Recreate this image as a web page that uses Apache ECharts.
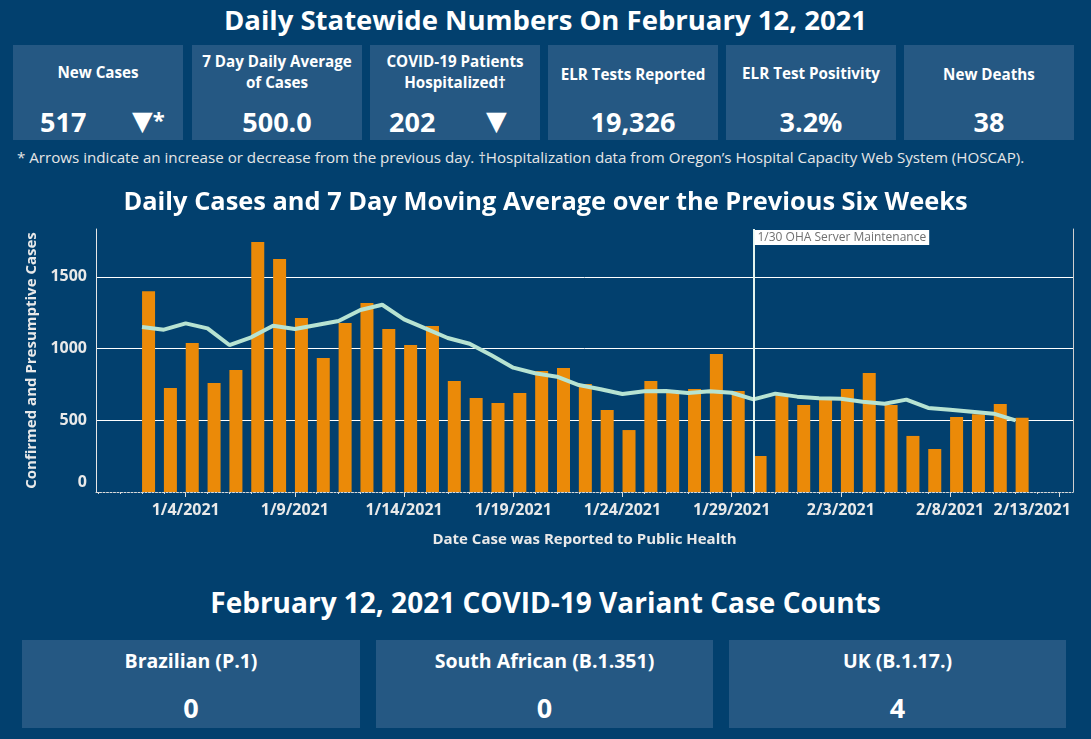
<!DOCTYPE html>
<html><head><meta charset="utf-8">
<script src="https://cdn.jsdelivr.net/npm/echarts@6/dist/echarts.min.js"></script>
<style>
html,body{margin:0;padding:0;width:1091px;height:739px;background:#02406e;overflow:hidden;font-family:"Open Sans","Noto Sans",sans-serif;color:#fff}
.abs{position:absolute;white-space:nowrap}
.ctr{text-align:center}
.b{font-weight:700}
.tile{position:absolute;background:#255883}
.tri{font-family:"DejaVu Sans",sans-serif;font-weight:400}
#chart{position:absolute;left:0;top:0;width:1091px;height:739px;z-index:5}
</style></head>
<body>
<div class="abs ctr b" style="left:0;width:1091px;top:1px;font-size:27.5px;line-height:38px">Daily Statewide Numbers On February 12, 2021</div>

<div class="tile" style="left:13px;top:45px;width:170px;height:95px"></div>
<div class="tile" style="left:192px;top:45px;width:170px;height:95px"></div>
<div class="tile" style="left:370px;top:45px;width:170px;height:95px"></div>
<div class="tile" style="left:548px;top:45px;width:170px;height:95px"></div>
<div class="tile" style="left:726px;top:45px;width:170px;height:95px"></div>
<div class="tile" style="left:904px;top:45px;width:170px;height:95px"></div>

<div class="abs ctr b" style="left:13px;width:170px;top:62px;font-size:15.2px;line-height:21px">New Cases</div>
<div class="abs ctr b" style="left:192px;width:170px;top:51px;font-size:15.2px;line-height:21px">7 Day Daily Average<br>of Cases</div>
<div class="abs ctr b" style="left:370px;width:170px;top:51px;font-size:15.2px;line-height:21px">COVID-19 Patients<br>Hospitalized†</div>
<div class="abs ctr b" style="left:548px;width:170px;top:64px;font-size:15.2px;line-height:21px">ELR Tests Reported</div>
<div class="abs ctr b" style="left:726px;width:170px;top:63px;font-size:15.2px;line-height:21px">ELR Test Positivity</div>
<div class="abs ctr b" style="left:904px;width:170px;top:64px;font-size:15.2px;line-height:21px">New Deaths</div>

<div class="abs b" style="left:40px;top:105px;font-size:27px;line-height:34px">517</div>
<div class="abs" style="left:132px;top:104px;line-height:34px"><span class="tri" style="font-size:27px">▼</span><span class="b" style="font-size:22px;vertical-align:top;line-height:30px">*</span></div>
<div class="abs ctr b" style="left:192px;width:170px;top:105px;font-size:27px;line-height:34px">500.0</div>
<div class="abs b" style="left:389px;top:105px;font-size:27px;line-height:34px">202</div>
<div class="abs tri" style="left:486px;top:104px;font-size:27px;line-height:34px">▼</div>
<div class="abs ctr b" style="left:548px;width:170px;top:105px;font-size:27px;line-height:34px">19,326</div>
<div class="abs ctr b" style="left:726px;width:170px;top:105px;font-size:27px;line-height:34px">3.2%</div>
<div class="abs ctr b" style="left:904px;width:170px;top:105px;font-size:27px;line-height:34px">38</div>

<div class="abs" style="left:17px;top:147px;font-size:15.15px;line-height:20px;color:#e6e6e6">* Arrows indicate an increase or decrease from the previous day. †Hospitalization data from Oregon’s Hospital Capacity Web System (HOSCAP).</div>

<div class="abs ctr b" style="left:0;width:1091px;top:583px;font-size:28px;line-height:38px">February 12, 2021 COVID-19 Variant Case Counts</div>
<div class="tile" style="left:22px;top:640px;width:338px;height:88px"></div>
<div class="tile" style="left:376px;top:640px;width:337px;height:88px"></div>
<div class="tile" style="left:729px;top:640px;width:337px;height:88px"></div>
<div class="abs ctr b" style="left:22px;width:338px;top:647px;font-size:19.5px;line-height:28px">Brazilian (P.1)</div>
<div class="abs ctr b" style="left:376px;width:337px;top:647px;font-size:19.5px;line-height:28px">South African (B.1.351)</div>
<div class="abs ctr b" style="left:729px;width:337px;top:647px;font-size:19.5px;line-height:28px">UK (B.1.17.)</div>
<div class="abs ctr b" style="left:22px;width:338px;top:691px;font-size:27px;line-height:34px">0</div>
<div class="abs ctr b" style="left:376px;width:337px;top:691px;font-size:27px;line-height:34px">0</div>
<div class="abs ctr b" style="left:729px;width:337px;top:691px;font-size:27px;line-height:34px">4</div>

<div id="chart"></div>
<script>
// ---- data ----
const dates = ["1/2/2021","1/3/2021","1/4/2021","1/5/2021","1/6/2021","1/7/2021","1/8/2021","1/9/2021","1/10/2021","1/11/2021",
  "1/12/2021","1/13/2021","1/14/2021","1/15/2021","1/16/2021","1/17/2021","1/18/2021","1/19/2021","1/20/2021","1/21/2021",
  "1/22/2021","1/23/2021","1/24/2021","1/25/2021","1/26/2021","1/27/2021","1/28/2021","1/29/2021","1/30/2021","1/31/2021",
  "2/1/2021","2/2/2021","2/3/2021","2/4/2021","2/5/2021","2/6/2021","2/7/2021","2/8/2021","2/9/2021","2/10/2021","2/11/2021"];
const dailyCases = [1400,725,1039,760,851,1744,1625,1213,934,1179,
  1318,1137,1025,1158,774,656,621,690,844,865,
  753,572,432,774,705,718,962,704,251,676,
  607,642,718,830,607,391,300,523,542,614,517];
const movingAvg = [1151,1132,1176,1141,1025,1079,1160,1137,1165,1193,
  1269,1306,1204,1139,1074,1034,953,867,828,804,
  746,716,683,702,704,690,702,692,646,686,
  665,653,651,630,616,644,586,574,560,546,500];
const tickLabels = ["1/4/2021","1/9/2021","1/14/2021","1/19/2021","1/24/2021","1/29/2021","2/3/2021","2/8/2021","2/13/2021"];
const annotationDate = "1/30/2021";
const annotationText = "1/30 OHA Server Maintenance";

// ---- helpers ----
const base = Date.UTC(2021,0,1);
const dayIdx = s => { const p = s.split('/').map(Number); return Math.round((Date.UTC(p[2],p[0]-1,p[1]) - base) / 864e5); };
const xs = dates.map(dayIdx);
const labelDays = tickLabels.map(dayIdx);
const minorDays = []; for (let d = xs[0] - 2; d <= labelDays[labelDays.length-1]; d++) minorDays.push(d);
const X_MIN = -1.107, X_MAX = 43.63, BAR_SHIFT = 0.3, Y_MAX = 1834;
const FONT = '"Open Sans","Noto Sans",sans-serif';
const txt = '#e9e9e9';
const TICK_FS = 16;

const chart = echarts.init(document.getElementById('chart'));
const lastLabel = labelDays[labelDays.length-1];
chart.setOption({
  animation: false,
  backgroundColor: 'transparent',
  textStyle: {fontFamily: FONT},
  title: {text: 'Daily Cases and 7 Day Moving Average over the Previous Six Weeks', left: 'center', top: 185,
    textStyle: {color: '#fff', fontSize: 25.4, fontWeight: 'bold', fontFamily: FONT}},
  grid: {left: 96, right: 18, top: 229, bottom: 247, containLabel: false},
  xAxis: [
    {type: 'value', min: X_MIN, max: X_MAX, position: 'bottom',
     axisLine: {show: true, onZero: false, lineStyle: {color: '#dcdcdc', width: 1, type: [2, 1.5]}},
     axisTick: {show: true, customValues: labelDays, length: 5, lineStyle: {color: '#dcdcdc'}},
     axisLabel: {customValues: labelDays, color: txt, fontSize: TICK_FS, fontWeight: 'bold', margin: 10,
       formatter: v => { const i = labelDays.indexOf(Math.round(v)); const s = i >= 0 ? tickLabels[i] : '';
         return Math.round(v) === lastLabel ? '{last|' + s + '}' : s; },
       rich: {last: {color: txt, fontSize: TICK_FS, fontWeight: 'bold', fontFamily: FONT, padding: [0, 54, 0, 0]}}},
     splitLine: {show: false},
     name: 'Date Case was Reported to Public Health', nameLocation: 'middle', nameGap: 40,
     nameTextStyle: {color: txt, fontSize: 15, fontWeight: 'bold'}},
    {type: 'value', min: X_MIN - BAR_SHIFT, max: X_MAX - BAR_SHIFT, show: false},
    {type: 'value', min: X_MIN, max: X_MAX, position: 'bottom',
     axisLine: {show: false, onZero: false}, axisLabel: {show: false}, splitLine: {show: false},
     axisTick: {show: true, customValues: minorDays, length: 2, lineStyle: {color: '#dcdcdc'}}}
  ],
  yAxis: [
    {type: 'value', min: 0, max: Y_MAX, interval: 500, position: 'left',
     axisLine: {show: true, onZero: false, lineStyle: {color: '#e6e6e6', width: 1}},
     axisTick: {show: false},
     axisLabel: {color: txt, fontSize: TICK_FS, fontWeight: 'bold', margin: 9, showMaxLabel: false,
       formatter: v => v === 0 ? '{z|0}' : String(v),
       rich: {z: {color: txt, fontSize: TICK_FS, fontWeight: 'bold', fontFamily: FONT, padding: [0, 0, 20, 0]}}},
     splitLine: {show: true, showMinLine: false, showMaxLine: false, lineStyle: {color: '#ffffff', width: 1}},
     name: 'Confirmed and Presumptive Cases', nameLocation: 'middle', nameGap: 55,
     nameTextStyle: {color: txt, fontSize: 15, fontWeight: 'bold'}},
    {type: 'value', min: 0, max: Y_MAX, position: 'right',
     axisLine: {show: true, onZero: false, lineStyle: {color: '#cfcfcf', width: 1}},
     axisTick: {show: false}, axisLabel: {show: false}, splitLine: {show: false}}
  ],
  series: [
    {type: 'bar', xAxisIndex: 1, yAxisIndex: 0, barWidth: 13, z: 2,
     itemStyle: {color: '#eb8a08'},
     data: xs.map((x, i) => [x, dailyCases[i]])},
    {type: 'line', xAxisIndex: 0, yAxisIndex: 0, z: 4, symbol: 'none', smooth: false,
     lineStyle: {color: '#b7e3d2', width: 4},
     data: xs.map((x, i) => [x, movingAvg[i]]),
     markLine: {silent: true, symbol: 'none', animation: false,
       lineStyle: {color: '#e3f4ee', width: 2, type: 'solid'}, label: {show: false},
       data: [{xAxis: dayIdx(annotationDate)}]}}
  ]
});
const px = chart.convertToPixel({xAxisIndex: 0}, dayIdx(annotationDate));
chart.setOption({graphic: [{type: 'text', left: px + 1, top: 230, z: 10,
  style: {text: annotationText, fill: '#707070', font: '12px ' + FONT, backgroundColor: '#ffffff', padding: [2, 3, 1, 3]}}]});
</script>
</body></html>
